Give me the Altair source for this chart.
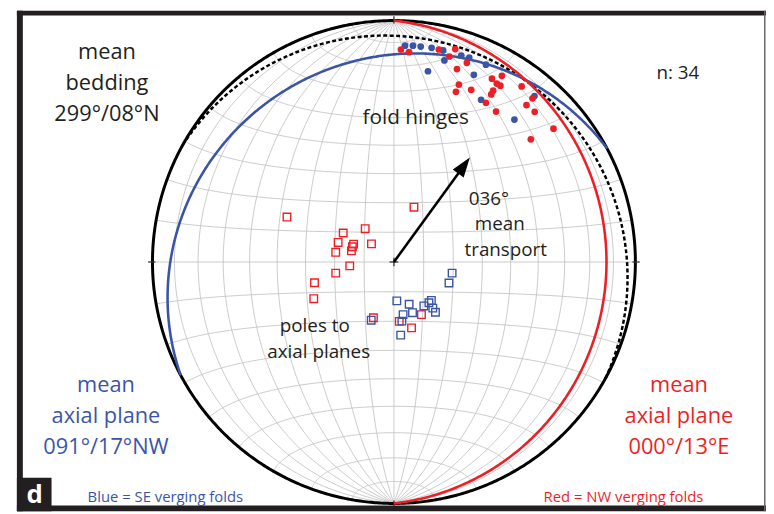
import numpy as np
import pandas as pd
import altair as alt

# ---------------- data ----------------
# equal-area (Schmidt) net coordinates, primitive radius = 1, x = east, y = north
hinge_blue_x = [0.046, 0.079, 0.111, 0.156, 0.204, 0.209, 0.279, 0.312, 0.381, 0.141, 0.331, 0.361, 0.582, 0.499]
hinge_blue_y = [0.896, 0.896, 0.892, 0.887, 0.876, 0.835, 0.855, 0.846, 0.817, 0.790, 0.775, 0.672, 0.687, 0.590]

hinge_red_x = [0.029, 0.062, 0.186, 0.254, 0.230, 0.302, 0.261, 0.447, 0.406, 0.426, 0.441, 0.269,
               0.257, 0.320, 0.411, 0.403, 0.529, 0.574, 0.381, 0.549, 0.583, 0.423, 0.661, 0.567]
hinge_red_y = [0.880, 0.869, 0.880, 0.882, 0.851, 0.825, 0.799, 0.771, 0.759, 0.739, 0.730, 0.735,
               0.705, 0.713, 0.710, 0.694, 0.727, 0.678, 0.659, 0.650, 0.622, 0.623, 0.552, 0.508]

pole_red_x = [-0.443, 0.083, -0.210, -0.119, -0.231, -0.167, -0.093, -0.241, -0.172, -0.176,
              -0.183, -0.241, -0.329, -0.332, -0.085, 0.022, 0.114, 0.073]
pole_red_y = [0.186, 0.227, 0.120, 0.138, 0.081, 0.074, 0.075, 0.040, 0.063, 0.046,
              -0.016, -0.046, -0.086, -0.152, -0.231, -0.246, -0.218, -0.273]

pole_blue_x = [0.241, 0.228, 0.012, 0.063, 0.155, 0.145, 0.124, 0.161, 0.172, 0.077, 0.038, 0.033, -0.094, 0.028]
pole_blue_y = [-0.046, -0.087, -0.161, -0.175, -0.159, -0.169, -0.182, -0.191, -0.208, -0.210, -0.218, -0.245, -0.241, -0.303]

# mean planes: dip direction / dip (degrees)
plane_names = ["bedding", "axial_blue", "axial_red"]
plane_dipdir = [29, 332, 90]
plane_dip = [8, 17, 13]

transport_trend = 36          # degrees
transport_len = 0.535         # net units

grid_step = 10                # degrees

FONT = "Open Sans"
RED = "#ed1f26"
BLUE = "#3b55a5"
DARK = "#231f20"
GRID = "#c4c4c4"

# ---------------- projection helpers ----------------
def project(e, n, d):
    k = 1.0 / np.sqrt(1.0 + d)
    return e * k, n * k


def great_circle(dipdir, dip, npts=181):
    a = np.radians(np.linspace(0, 180, npts))
    dd = np.radians(dipdir)
    dp = np.radians(dip)
    se, sn = np.sin(dd - np.pi / 2), np.cos(dd - np.pi / 2)
    de, dn, dz = np.sin(dd) * np.cos(dp), np.cos(dd) * np.cos(dp), np.sin(dp)
    e = np.cos(a) * se + np.sin(a) * de
    n = np.cos(a) * sn + np.sin(a) * dn
    z = np.sin(a) * dz
    return project(e, n, np.clip(z, 0, 1))


def small_circle_ns(beta, sign, npts=181):
    phi = np.radians(np.linspace(0, 180, npts))
    b = np.radians(beta)
    n = sign * np.cos(b) * np.ones_like(phi)
    e = np.sin(b) * np.cos(phi)
    z = np.sin(b) * np.sin(phi)
    return project(e, n, z)


rows = []
cid = 0
for dip in range(grid_step, 91, grid_step):
    for dd in ([90, 270] if dip < 90 else [90]):
        x, y = great_circle(dd, dip)
        rows += [dict(id=cid, i=k, x=float(x[k]), y=float(y[k])) for k in range(len(x))]
        cid += 1
for beta in range(grid_step, 91, grid_step):
    for sgn in ([1, -1] if beta < 90 else [1]):
        x, y = small_circle_ns(beta, sgn)
        rows += [dict(id=cid, i=k, x=float(x[k]), y=float(y[k])) for k in range(len(x))]
        cid += 1
grid_df = pd.DataFrame(rows)

th = np.radians(np.linspace(0, 360, 721))
prim_df = pd.DataFrame({"i": np.arange(len(th)), "x": np.sin(th), "y": np.cos(th)})

plane_rows = []
for name, dd, dp in zip(plane_names, plane_dipdir, plane_dip):
    x, y = great_circle(dd, dp, 361)
    plane_rows += [dict(name=name, i=k, x=float(x[k]), y=float(y[k])) for k in range(len(x))]
planes_df = pd.DataFrame(plane_rows)

# ---------------- scales (net units -> pixels, 244 px per unit) ----------------
xs = alt.Scale(domain=[-390 / 244, 376 / 244], nice=False, zero=False)
ys = alt.Scale(domain=[-252 / 244, 254 / 244], nice=False, zero=False)
X = alt.X("x:Q", scale=xs, axis=None)
Y = alt.Y("y:Q", scale=ys, axis=None)
X2 = alt.X2("x2:Q")
Y2 = alt.Y2("y2:Q")

one = pd.DataFrame({"a": [0]})

grid = alt.Chart(grid_df).mark_line(color=GRID, strokeWidth=0.9).encode(
    x=X, y=Y, detail="id:N", order="i:Q")

prim = alt.Chart(prim_df).mark_line(color="black", strokeWidth=3).encode(x=X, y=Y, order="i:Q")

tk = 0.018
ticks_df = pd.DataFrame({
    "x": [0, 0, 1 - 0.012, -1 + 0.012, -0.018, 0],
    "y": [1 - 0.012, -1 + 0.012, 0, 0, 0, -0.018],
    "x2": [0, 0, 1 + tk, -1 - tk, 0.018, 0],
    "y2": [1 + tk, -1 - tk, 0, 0, 0, 0.018],
})
ticks = alt.Chart(ticks_df).mark_rule(color="#333333", strokeWidth=1.3).encode(x=X, y=Y, x2=X2, y2=Y2)

bed = alt.Chart(planes_df[planes_df.name == "bedding"]).mark_line(
    color="black", strokeWidth=2.5, strokeDash=[4, 2.5]).encode(x=X, y=Y, order="i:Q")
ax_blue = alt.Chart(planes_df[planes_df.name == "axial_blue"]).mark_line(
    color=BLUE, strokeWidth=2.6).encode(x=X, y=Y, order="i:Q")
ax_red = alt.Chart(planes_df[planes_df.name == "axial_red"]).mark_line(
    color=RED, strokeWidth=2.6).encode(x=X, y=Y, order="i:Q")

sq_red = alt.Chart(pd.DataFrame({"x": pole_red_x, "y": pole_red_y})).mark_square(
    filled=False, color=RED, size=58, strokeWidth=1.4, opacity=1).encode(x=X, y=Y)
sq_blue = alt.Chart(pd.DataFrame({"x": pole_blue_x, "y": pole_blue_y})).mark_square(
    filled=False, color=BLUE, size=58, strokeWidth=1.4, opacity=1).encode(x=X, y=Y)

c_blue = alt.Chart(pd.DataFrame({"x": hinge_blue_x, "y": hinge_blue_y})).mark_circle(
    color=BLUE, size=46, opacity=1).encode(x=X, y=Y)
c_red = alt.Chart(pd.DataFrame({"x": hinge_red_x, "y": hinge_red_y})).mark_circle(
    color=RED, size=46, opacity=1).encode(x=X, y=Y)

tr = np.radians(transport_trend)
head_half = 10 / 244
shaft_df = pd.DataFrame({"x": [0.0], "y": [0.0],
                         "x2": [np.sin(tr) * (transport_len - 1.4 * head_half)],
                         "y2": [np.cos(tr) * (transport_len - 1.4 * head_half)]})
shaft = alt.Chart(shaft_df).mark_rule(color="black", strokeWidth=2.6).encode(x=X, y=Y, x2=X2, y2=Y2)
head_df = pd.DataFrame({"x": [np.sin(tr) * (transport_len - head_half)],
                        "y": [np.cos(tr) * (transport_len - head_half)]})
head = alt.Chart(head_df).mark_point(
    shape="M0,-1L0.68,1L-0.68,1Z", filled=True, color="black", size=400, angle=transport_trend,
    opacity=1, strokeWidth=0).encode(x=X, y=Y)


def rect(x1, x2, y1, y2, color=DARK):
    return alt.Chart(one).mark_rect(color=color).encode(
        x=alt.value(x1 - 8), x2=alt.value(x2 - 8), y=alt.value(y1 - 8), y2=alt.value(y2 - 8))


def label(txt, x, y, color=DARK, size=22, weight="normal", line_height=None):
    props = dict(font=FONT, fontSize=size, color=color, align="center", baseline="alphabetic",
                 fontWeight=weight, text=txt)
    if line_height is not None:
        props["lineHeight"] = line_height
    return alt.Chart(one).mark_text(**props).encode(x=alt.value(x - 8), y=alt.value(y - 8))


frame = [
    rect(17, 774, 8, 13),
    rect(17, 23, 8, 514),
    rect(17, 774, 508, 514),
    rect(772, 773.5, 8, 514, "#666666"),
    rect(17, 52, 480, 514),
]

texts = [
    label(["mean", "bedding", "299°/08°N"], 108, 57, line_height=31.5),
    label("n: 34", 685, 77, size=19),
    label("fold hinges", 420, 123, size=21),
    label("036°", 494, 204, size=19),
    label("mean", 505, 230, size=19),
    label("transport", 511, 256, size=19),
    label("poles to", 318, 333, size=19),
    label("axial planes", 322, 359, size=19),
    label(["mean", "axial plane", "091°/17°NW"], 107, 393, BLUE, line_height=31.5),
    label(["mean", "axial plane", "000°/13°E"], 686, 393, RED, line_height=31.5),
    label("Blue = SE verging folds", 167, 505, BLUE, size=15),
    label("Red = NW verging folds", 630, 505, RED, size=15),
    label("d", 35, 506, "white", size=26, weight="bold"),
]

chart = alt.layer(
    grid, prim, ticks, bed, ax_blue, ax_red, sq_red, sq_blue, c_blue, c_red, shaft, head,
    *frame, *texts
).properties(
    width=766, height=506, padding=0,
    autosize=alt.AutoSizeParams(type="none"),
    background="white",
).configure_view(stroke=None)

chart.save("out.html", embed_options={"renderer": "svg", "actions": False})
